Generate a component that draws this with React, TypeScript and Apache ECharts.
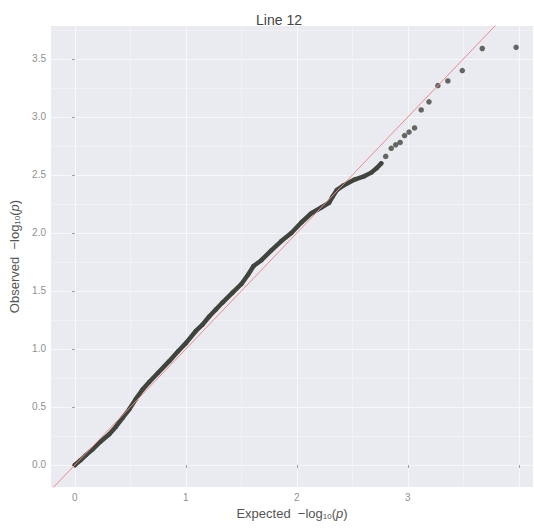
import React, { useEffect, useRef } from "react";
import * as echarts from "echarts";

// Dense part of the QQ curve (expected, observed)
const expectedDense = [
  0.0, 0.05, 0.1, 0.16, 0.23, 0.31, 0.37, 0.43, 0.49, 0.55, 0.61, 0.67, 0.75, 0.85, 0.93,
  1.0, 1.09, 1.15, 1.21, 1.27, 1.33, 1.42, 1.5, 1.56, 1.61, 1.68, 1.77, 1.86, 1.95, 2.04,
  2.13, 2.22, 2.29, 2.32, 2.36, 2.42, 2.52, 2.61, 2.67, 2.72, 2.76,
];
const observedDense = [
  0.0, 0.04, 0.085, 0.135, 0.2, 0.265, 0.33, 0.405, 0.48, 0.57, 0.65, 0.715, 0.795, 0.895, 0.98,
  1.05, 1.155, 1.21, 1.28, 1.34, 1.4, 1.485, 1.56, 1.64, 1.715, 1.765, 1.85, 1.93, 2.0, 2.09,
  2.17, 2.22, 2.26, 2.31, 2.37, 2.41, 2.46, 2.49, 2.52, 2.56, 2.6,
];
// Sparse upper tail
const expectedTail = [2.8, 2.85, 2.89, 2.93, 2.97, 3.01, 3.06, 3.12, 3.19, 3.27, 3.36, 3.49, 3.67, 3.975];
const observedTail = [2.66, 2.73, 2.76, 2.78, 2.84, 2.87, 2.905, 3.06, 3.13, 3.27, 3.31, 3.4, 3.59, 3.6];

const refLineEnds = [-0.5, 4.5];
const xTickValues = [0, 1, 2, 3, 4];
const xLabelValues = [0, 1, 2, 3];
const yTickValues = [0, 0.5, 1, 1.5, 2, 2.5, 3, 3.5];

const FONT = "'Liberation Sans', Arial, Helvetica, sans-serif";

export default function App() {
  const ref = useRef<HTMLDivElement>(null);
  useEffect(() => {
    if (!ref.current) return;
    const chart = echarts.init(ref.current, undefined, { renderer: "svg" });
    const dense = expectedDense.map((x, i) => [x, observedDense[i]]);
    const tail = expectedTail.map((x, i) => [x, observedTail[i]]);
    const refLine = refLineEnds.map((v) => [v, v]);
    const pointColor = "#3f453d";
    chart.setOption({
      animation: false,
      backgroundColor: "#ffffff",
      title: {
        text: "Line 12",
        left: 274,
        top: 8,
        textAlign: "center",
        textStyle: { fontFamily: FONT, fontSize: 14, fontWeight: "normal", color: "#444" },
      },
      grid: {
        left: 48,
        right: 1,
        top: 26,
        bottom: 45,
        show: true,
        backgroundColor: "#EAEAF1",
        borderWidth: 0,
      },
      xAxis: {
        type: "value",
        min: -0.215,
        max: 4.127,
        splitNumber: 4,
        axisLine: { show: false },
        axisTick: { show: true, length: 3, lineStyle: { color: "#a0a0a0" }, customValues: xTickValues },
        axisLabel: {
          customValues: xLabelValues,
          color: "#909090",
          fontFamily: FONT,
          fontSize: 10,
          margin: 5,
          formatter: (v: number) => String(v),
        },
        splitLine: { show: true, lineStyle: { color: "#F8F8FB", width: 1 } },
        minorTick: { show: false, splitNumber: 2 },
        minorSplitLine: { show: true, lineStyle: { color: "#F1F1F6", width: 1 } },
        name: "Expected  −log{s|10}({i|p})",
        nameLocation: "middle",
        nameGap: 20,
        nameTextStyle: {
          fontFamily: FONT,
          fontSize: 13,
          color: "#555",
          rich: {
            s: { fontFamily: FONT, fontSize: 8, color: "#555", verticalAlign: "bottom" },
            i: { fontFamily: FONT, fontSize: 13, color: "#555", fontStyle: "italic" },
          },
        },
      },
      yAxis: {
        type: "value",
        min: -0.19,
        max: 3.784,
        splitNumber: 8,
        axisLine: { show: false },
        axisTick: { show: true, length: 3, lineStyle: { color: "#a0a0a0" }, customValues: yTickValues },
        axisLabel: {
          customValues: yTickValues,
          color: "#909090",
          fontFamily: FONT,
          fontSize: 10,
          margin: 5,
          formatter: (v: number) => v.toFixed(1),
        },
        splitLine: { show: true, lineStyle: { color: "#F8F8FB", width: 1 } },
        minorTick: { show: false, splitNumber: 2 },
        minorSplitLine: { show: true, lineStyle: { color: "#F1F1F6", width: 1 } },
        name: "Observed  −log{s|10}({i|p})",
        nameLocation: "middle",
        nameGap: 30,
        nameTextStyle: {
          fontFamily: FONT,
          fontSize: 13,
          color: "#555",
          rich: {
            s: { fontFamily: FONT, fontSize: 8, color: "#555", verticalAlign: "bottom" },
            i: { fontFamily: FONT, fontSize: 13, color: "#555", fontStyle: "italic" },
          },
        },
      },
      series: [
        {
          type: "line",
          data: refLine,
          showSymbol: false,
          clip: true,
          lineStyle: { color: "#EC8A8C", width: 1 },
          silent: true,
          z: 3,
        },
        {
          type: "line",
          data: dense,
          symbol: "circle",
          symbolSize: 4.5,
          showSymbol: true,
          itemStyle: { color: pointColor },
          lineStyle: { color: pointColor, width: 4.5, cap: "round", join: "round" },
          z: 2,
        },
        {
          type: "scatter",
          data: tail,
          symbol: "circle",
          symbolSize: 5.5,
          itemStyle: { color: pointColor },
          z: 2,
        },
      ],
    });
    return () => chart.dispose();
  }, []);
  return (
    <div
      ref={ref}
      style={{ position: "fixed", left: 0, top: 0, width: 534, height: 532 }}
    />
  );
}
